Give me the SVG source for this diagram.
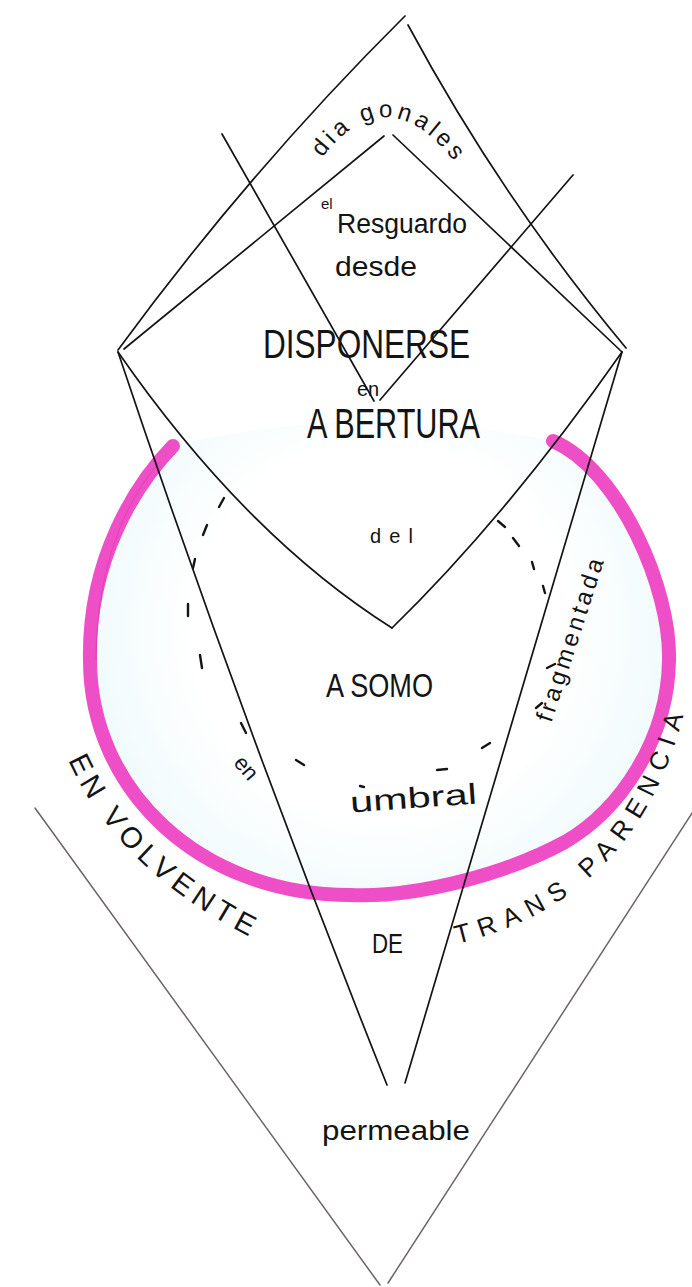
<svg xmlns="http://www.w3.org/2000/svg" width="692" height="1287" viewBox="0 0 692 1287">
  <defs>
    <style>
      .ink { fill: none; stroke: #141414; stroke-width: 1.7; stroke-linecap: round; stroke-linejoin: round; }
      .pencil { fill: none; stroke: #6e6464; stroke-width: 1.5; stroke-linecap: round; }
      .dash { fill: none; stroke: #141414; stroke-width: 2.4; stroke-linecap: round; }
      .t { font-family: "Liberation Sans", Arial, sans-serif; fill: #141414; }
    </style>
    <radialGradient id="tint" gradientUnits="userSpaceOnUse" cx="380" cy="630" r="310">
      <stop offset="0" stop-color="#e8f8f9" stop-opacity="0"/>
      <stop offset="0.6" stop-color="#e8f8f9" stop-opacity="0"/>
      <stop offset="0.9" stop-color="#e8f8f9" stop-opacity="0.55"/>
      <stop offset="1" stop-color="#e8f8f9" stop-opacity="0.75"/>
    </radialGradient>
    <path id="pDiag" d="M 322 158 Q 390 70 462 172"/>
    <path id="pEnv" d="M 68 760 Q 118 870 250 937"/>
    <path id="pTrans" d="M 457 944 Q 640 900 686 705"/>
  </defs>
  <rect width="692" height="1287" fill="#ffffff"/>

  <g id="envelope">
    <path d="M 173 446 C 135 485, 88 560, 90 660 C 90 790, 200 895, 350 895 C 420 898, 510 872, 565 842 C 620 810, 668 740, 669 660 C 671 590, 620 470, 553 441 Q 363 400 173 446 Z" fill="url(#tint)" stroke="none"/>
    <path d="M 173 446 C 135 485, 88 560, 90 660 C 90 790, 200 895, 350 895 C 420 898, 510 872, 565 842 C 620 810, 668 740, 669 660 C 671 590, 620 470, 553 441" fill="none" stroke="#ee4fc6" stroke-width="14" stroke-linecap="round"/>
    <path d="M 160 462 C 125 500, 96 570, 96 660" fill="none" stroke="#d83aa8" stroke-width="1" opacity="0.7"/>
  </g>

  <g id="connectors">
    <path class="ink" d="M 118 350 Q 249 171 405 16"/>
    <path class="ink" d="M 408 25 Q 501 198 626 348"/>
    <path class="ink" d="M 124 349 L 384 136"/>
    <path class="ink" d="M 393 135 L 622 352"/>
    <path class="ink" d="M 118 352 Q 245 535 392 628"/>
    <path class="ink" d="M 622 352 Q 507 516 392 628"/>
    <path class="ink" d="M 118 352 Q 240 717 387 1085" stroke-width="1.4"/>
    <path class="ink" d="M 622 352 L 405 1083" stroke-width="1.4"/>
    <path class="ink" d="M 222 134 L 374 401"/>
    <path class="ink" d="M 573 175 L 380 400"/>
    <path class="pencil" d="M 35 808 L 380 1285"/>
    <path class="pencil" d="M 694 810 L 388 1283"/>
  </g>

  <g id="dashes">
    <path class="dash" d="M 219 507 L 224 498"/>
    <path class="dash" d="M 203 535 L 207 525"/>
    <path class="dash" d="M 193 568 L 195 559"/>
    <path class="dash" d="M 188 616 L 188 604"/>
    <path class="dash" d="M 202 668 L 200 655"/>
    <path class="dash" d="M 241 723 L 246 733"/>
    <path class="dash" d="M 296 760 L 304 765"/>
    <path class="dash" d="M 360 786 L 364 787"/>
    <path class="dash" d="M 437 770 L 447 769"/>
    <path class="dash" d="M 482 748 L 490 743"/>
    <path class="dash" d="M 498 521 L 505 527"/>
    <path class="dash" d="M 513 538 L 519 546"/>
    <path class="dash" d="M 532 562 L 534 569"/>
    <path class="dash" d="M 543 586 L 545 593"/>
    <path class="dash" d="M 536 708 L 542 703"/>
    <path class="dash" d="M 547 668 L 555 664"/>
  </g>

  <g id="labels">
    <text class="t" font-size="24"><textPath href="#pDiag" textLength="162" lengthAdjust="spacing">dia gonales</textPath></text>
    <text class="t" x="321" y="209" font-size="15">el</text>
    <text class="t" x="337" y="233" font-size="27" textLength="130" lengthAdjust="spacingAndGlyphs">Resguardo</text>
    <text class="t" x="335" y="276" font-size="27" textLength="82" lengthAdjust="spacingAndGlyphs">desde</text>
    <text class="t" x="263" y="358" font-size="40" textLength="207" lengthAdjust="spacingAndGlyphs">DISPONERSE</text>
    <text class="t" x="357" y="396" font-size="20">en</text>
    <text class="t" x="307" y="438" font-size="42" textLength="173" lengthAdjust="spacingAndGlyphs">A BERTURA</text>
    <text class="t" x="370" y="543" font-size="20" textLength="43" lengthAdjust="spacing">del</text>
    <text class="t" x="326" y="697" font-size="33" textLength="107" lengthAdjust="spacingAndGlyphs">A SOMO</text>
    <text class="t" font-size="22" text-anchor="middle" transform="translate(246,768) rotate(50)" x="0" y="7">en</text>
    <text class="t" x="350" y="808" font-size="29" textLength="127" lengthAdjust="spacingAndGlyphs" transform="rotate(-4 413 800)">umbral</text>
    <text class="t" font-size="24" text-anchor="middle" transform="translate(570,640) rotate(-72)" x="0" y="8" textLength="170" lengthAdjust="spacing">fragmentada</text>
    <text class="t" font-size="29"><textPath href="#pEnv" textLength="258" lengthAdjust="spacing">EN VOLVENTE</textPath></text>
    <text class="t" x="372" y="953" font-size="28" textLength="31" lengthAdjust="spacingAndGlyphs">DE</text>
    <text class="t" font-size="26"><textPath href="#pTrans" textLength="340" lengthAdjust="spacing">TRANS PARENCIA</textPath></text>
    <text class="t" x="322" y="1140" font-size="27" textLength="148" lengthAdjust="spacingAndGlyphs">permeable</text>
  </g>
</svg>
